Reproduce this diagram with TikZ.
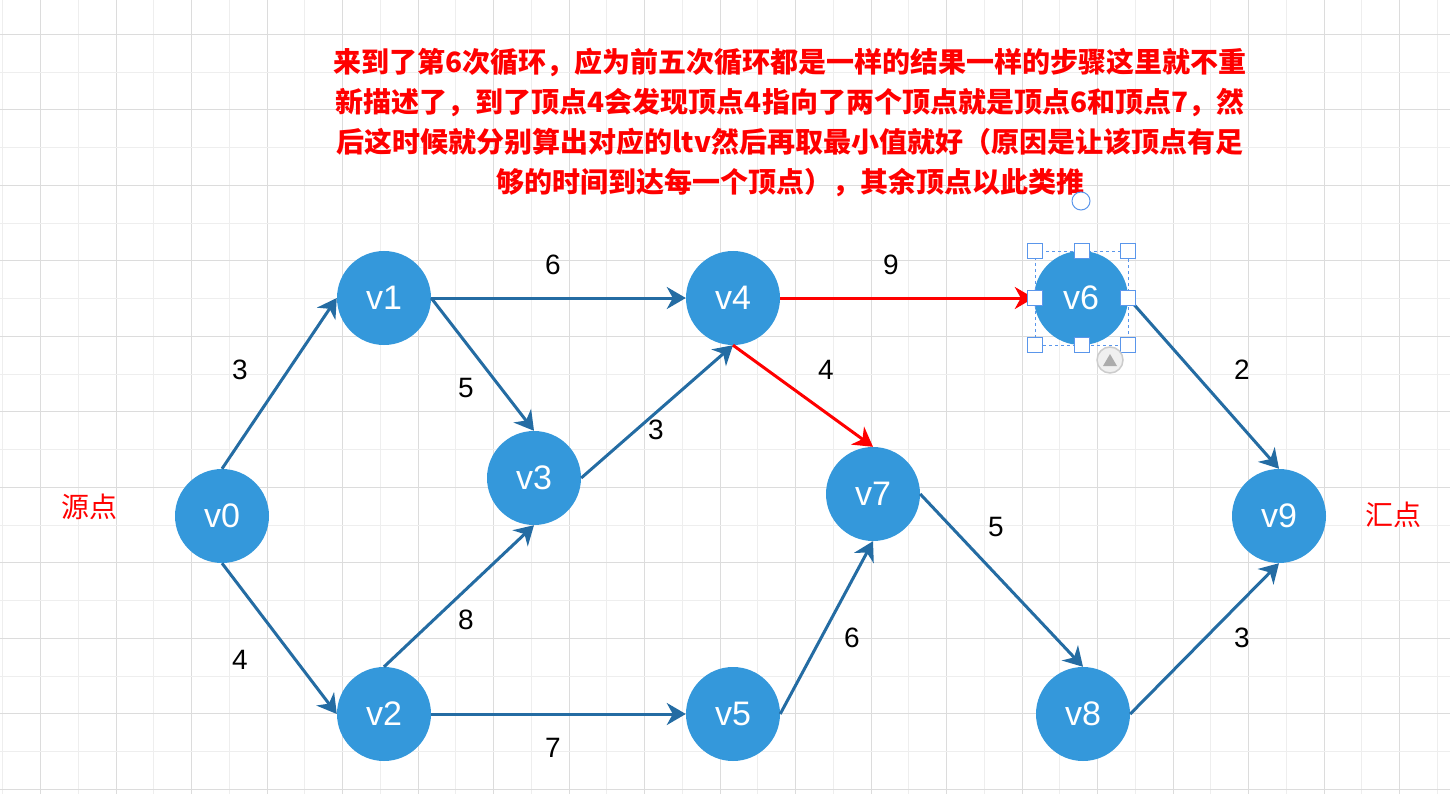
\documentclass[tikz,border=0pt]{standalone}
\usepackage{fontspec}
\setmainfont{Liberation Sans}
\newfontfamily\cjk{Noto Sans CJK SC}
\usetikzlibrary{arrows.meta}
\definecolor{vblue}{RGB}{52,152,219}
\definecolor{eblue}{RGB}{36,108,163}
\definecolor{selblue}{RGB}{90,150,235}
\definecolor{gridc}{RGB}{220,220,220}
\definecolor{gridf}{RGB}{238,238,238}
\tikzset{
  vtx/.style={circle,fill=vblue,minimum size=94pt,inner sep=0pt,text=white,font=\fontsize{34}{34}\selectfont},
  edge/.style={draw=eblue,line width=3pt,-{Stealth[length=19pt,width=22pt,inset=6pt]}},
  hot/.style={edge,draw=red},
  wt/.style={font=\fontsize{28}{28}\selectfont},
  side/.style={text=red,font=\cjk\fontsize{28}{28}\selectfont},
  handle/.style={draw=selblue,fill=white,line width=1pt}
}
\begin{document}
\begin{tikzpicture}[x=1pt,y=-1pt]
\useasboundingbox (0,0) rectangle (1450,794);
\clip (0,0) rectangle (1450,794);
\fill[white] (0,0) rectangle (1450,794);
\foreach \k in {0,...,19} {
  \draw[gridf,line width=1pt] ({2.95+75.5*\k},0) -- ++(0,794);
  \draw[gridc,line width=1pt] ({40.7+75.5*\k},0) -- ++(0,794);
}
\foreach \k in {0,...,10} {
  \draw[gridc,line width=1pt] (0,{34.3+75.5*\k}) -- ++(1450,0);
  \draw[gridf,line width=1pt] (0,{72.05+75.5*\k}) -- ++(1450,0);
}

\node[text=red,align=center,font=\cjk\bfseries\fontsize{28}{40}\selectfont] (note) at (790,123)
  {来到了第6次循环，应为前五次循环都是一样的结果一样的步骤这里就不重\\
   新描述了，到了顶点4会发现顶点4指向了两个顶点就是顶点6和顶点7，然\\
   后这时候就分别算出对应的ltv然后再取最小值就好（原因是让该顶点有足\\
   够的时间到达每一个顶点），其余顶点以此类推};

\node[vtx] (v0) at (222,516) {v0};
\node[vtx] (v1) at (384,298) {v1};
\node[vtx] (v2) at (384,714) {v2};
\node[vtx] (v3) at (534,478) {v3};
\node[vtx] (v4) at (733,298) {v4};
\node[vtx] (v5) at (733,714) {v5};
\node[vtx] (v6) at (1081,298) {v6};
\node[vtx] (v7) at (873,494) {v7};
\node[vtx] (v8) at (1083,714) {v8};
\node[vtx] (v9) at (1279,516) {v9};
\node[side] (src) at (89,507) {源点};
\node[side] (snk) at (1393,515) {汇点};

\draw[edge] (v0.north) -- (v1.west) node[wt] at (240,370) {3};
\draw[edge] (v0.south) -- (v2.west) node[wt] at (240,660) {4};
\draw[edge] (v1.east) -- (v4.west) node[wt] at (553,265) {6};
\draw[edge] (v1.east) -- (v3.north) node[wt] at (466,388) {5};
\draw[edge] (v2.north) -- (v3.south) node[wt] at (466,620) {8};
\draw[edge] (v2.east) -- (v5.west) node[wt] at (553,748) {7};
\draw[edge] (v3.east) -- (v4.south) node[wt] at (656,430) {3};
\draw[hot] (v4.east) -- (v6.west) node[wt] at (891,265) {9};
\draw[hot] (v4.south) -- (v7.north) node[wt] at (826,370) {4};
\draw[edge] (v5.east) -- (v7.south) node[wt] at (852,638) {6};
\draw[edge] (v7.east) -- (v8.north) node[wt] at (996,527) {5};
\draw[edge] (v6.east) -- (v9.north) node[wt] at (1242,370) {2};
\draw[edge] (v8.east) -- (v9.south) node[wt] at (1242,638) {3};

\draw[selblue,dashed,line width=0.8pt] (1035,251) rectangle (1128,345);
\foreach \hx/\hy in {1035/251,1081.5/251,1128/251,1035/298,1128/298,1035/345,1081.5/345,1128/345}
  \draw[handle] (\hx-7.5,\hy-7.5) rectangle ++(15,15);
\draw[handle] (1081,201) circle[radius=9];
\draw[gray!40,fill=gray!12,line width=1.5pt] (1110,360) circle[radius=13];
\fill[gray!65] (1103,366) -- (1117,366) -- (1110,354) -- cycle;
\end{tikzpicture}
\end{document}
